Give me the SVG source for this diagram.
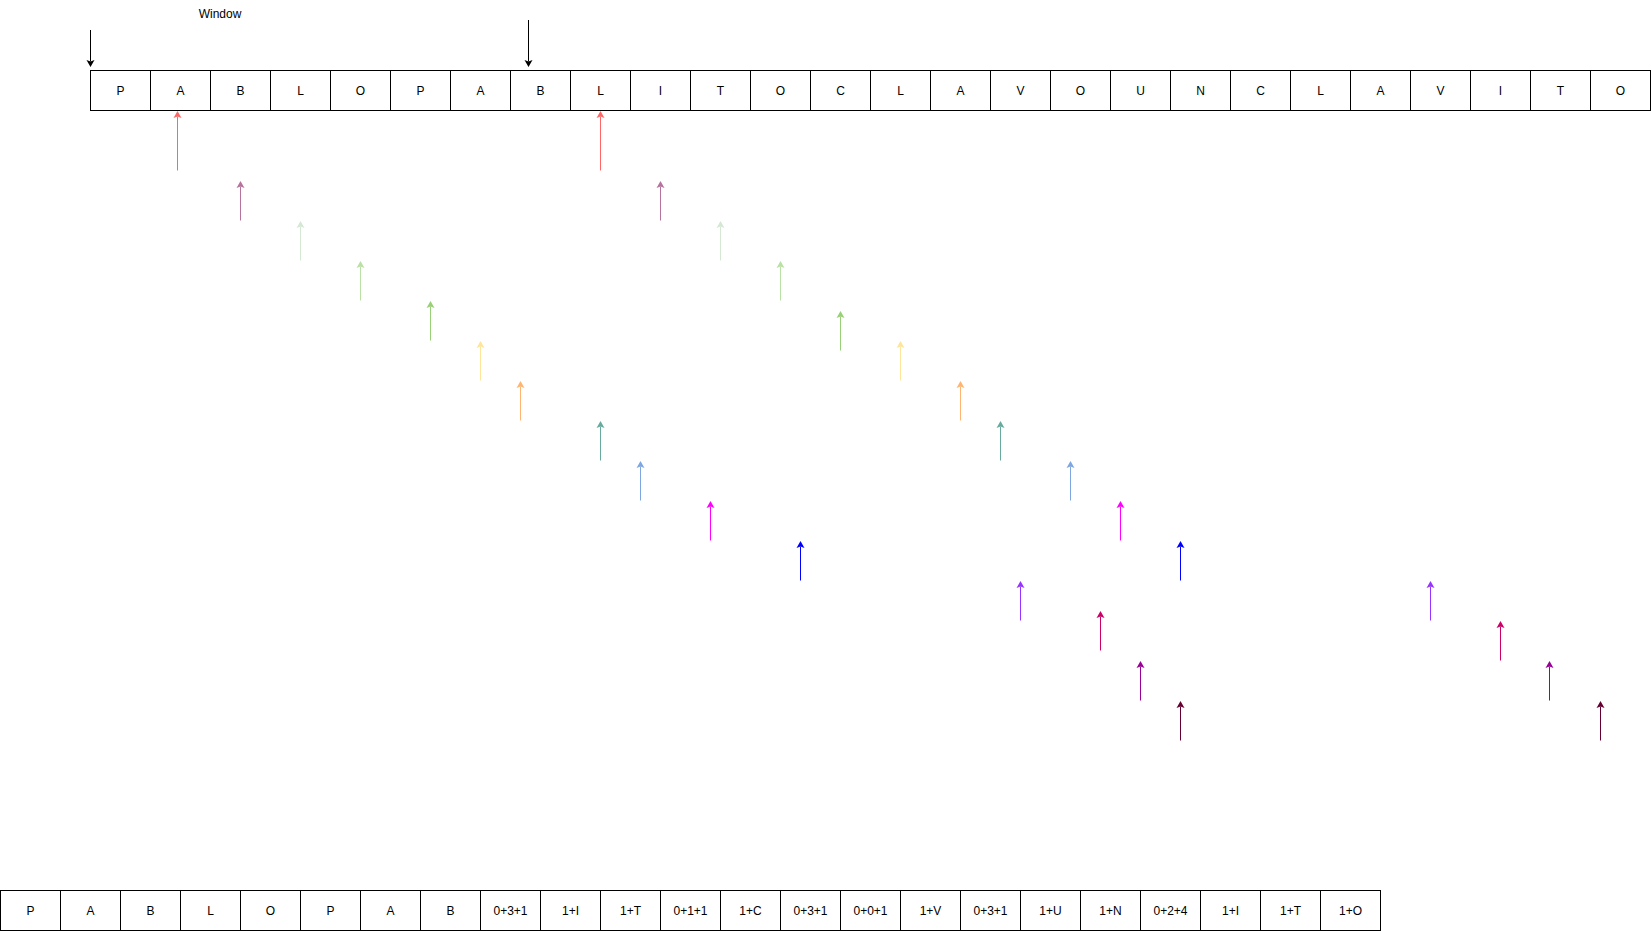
<svg xmlns="http://www.w3.org/2000/svg" width="1651" height="931" viewBox="0 0 1651 931">
<style>
.cell rect{fill:#fff;stroke:#000;stroke-width:1}
.cell text,.lbl{font-family:"Liberation Sans",Arial,sans-serif;font-size:12px;fill:#000;text-anchor:middle;dominant-baseline:central}
.c line{stroke-width:1;fill:none}
</style>
<defs>
<marker id="m000" viewBox="-2 -4 8 8" refX="0" refY="0" markerWidth="8" markerHeight="8" markerUnits="userSpaceOnUse" orient="auto" overflow="visible"><path d="M5.5,0 L-1.5,-4 L0,0 L-1.5,4 Z" fill="#000"/></marker>
<marker id="mF66" viewBox="-2 -4 8 8" refX="0" refY="0" markerWidth="8" markerHeight="8" markerUnits="userSpaceOnUse" orient="auto" overflow="visible"><path d="M5.5,0 L-1.5,-4 L0,0 L-1.5,4 Z" fill="#FF6666"/></marker>
<marker id="mB57" viewBox="-2 -4 8 8" refX="0" refY="0" markerWidth="8" markerHeight="8" markerUnits="userSpaceOnUse" orient="auto" overflow="visible"><path d="M5.5,0 L-1.5,-4 L0,0 L-1.5,4 Z" fill="#B5739D"/></marker>
<marker id="mD5E" viewBox="-2 -4 8 8" refX="0" refY="0" markerWidth="8" markerHeight="8" markerUnits="userSpaceOnUse" orient="auto" overflow="visible"><path d="M5.5,0 L-1.5,-4 L0,0 L-1.5,4 Z" fill="#D5E8D4"/></marker>
<marker id="mB9E" viewBox="-2 -4 8 8" refX="0" refY="0" markerWidth="8" markerHeight="8" markerUnits="userSpaceOnUse" orient="auto" overflow="visible"><path d="M5.5,0 L-1.5,-4 L0,0 L-1.5,4 Z" fill="#B9E0A5"/></marker>
<marker id="m97D" viewBox="-2 -4 8 8" refX="0" refY="0" markerWidth="8" markerHeight="8" markerUnits="userSpaceOnUse" orient="auto" overflow="visible"><path d="M5.5,0 L-1.5,-4 L0,0 L-1.5,4 Z" fill="#97D077"/></marker>
<marker id="mFE5" viewBox="-2 -4 8 8" refX="0" refY="0" markerWidth="8" markerHeight="8" markerUnits="userSpaceOnUse" orient="auto" overflow="visible"><path d="M5.5,0 L-1.5,-4 L0,0 L-1.5,4 Z" fill="#FFE599"/></marker>
<marker id="mFB5" viewBox="-2 -4 8 8" refX="0" refY="0" markerWidth="8" markerHeight="8" markerUnits="userSpaceOnUse" orient="auto" overflow="visible"><path d="M5.5,0 L-1.5,-4 L0,0 L-1.5,4 Z" fill="#FFB570"/></marker>
<marker id="m67A" viewBox="-2 -4 8 8" refX="0" refY="0" markerWidth="8" markerHeight="8" markerUnits="userSpaceOnUse" orient="auto" overflow="visible"><path d="M5.5,0 L-1.5,-4 L0,0 L-1.5,4 Z" fill="#67AB9F"/></marker>
<marker id="m7EA" viewBox="-2 -4 8 8" refX="0" refY="0" markerWidth="8" markerHeight="8" markerUnits="userSpaceOnUse" orient="auto" overflow="visible"><path d="M5.5,0 L-1.5,-4 L0,0 L-1.5,4 Z" fill="#7EA6E0"/></marker>
<marker id="mF0F" viewBox="-2 -4 8 8" refX="0" refY="0" markerWidth="8" markerHeight="8" markerUnits="userSpaceOnUse" orient="auto" overflow="visible"><path d="M5.5,0 L-1.5,-4 L0,0 L-1.5,4 Z" fill="#FF00FF"/></marker>
<marker id="m00F" viewBox="-2 -4 8 8" refX="0" refY="0" markerWidth="8" markerHeight="8" markerUnits="userSpaceOnUse" orient="auto" overflow="visible"><path d="M5.5,0 L-1.5,-4 L0,0 L-1.5,4 Z" fill="#0000FF"/></marker>
<marker id="m93F" viewBox="-2 -4 8 8" refX="0" refY="0" markerWidth="8" markerHeight="8" markerUnits="userSpaceOnUse" orient="auto" overflow="visible"><path d="M5.5,0 L-1.5,-4 L0,0 L-1.5,4 Z" fill="#9933FF"/></marker>
<marker id="mC06" viewBox="-2 -4 8 8" refX="0" refY="0" markerWidth="8" markerHeight="8" markerUnits="userSpaceOnUse" orient="auto" overflow="visible"><path d="M5.5,0 L-1.5,-4 L0,0 L-1.5,4 Z" fill="#CC0066"/></marker>
<marker id="m909" viewBox="-2 -4 8 8" refX="0" refY="0" markerWidth="8" markerHeight="8" markerUnits="userSpaceOnUse" orient="auto" overflow="visible"><path d="M5.5,0 L-1.5,-4 L0,0 L-1.5,4 Z" fill="#990099"/></marker>
<marker id="m603" viewBox="-2 -4 8 8" refX="0" refY="0" markerWidth="8" markerHeight="8" markerUnits="userSpaceOnUse" orient="auto" overflow="visible"><path d="M5.5,0 L-1.5,-4 L0,0 L-1.5,4 Z" fill="#660033"/></marker>
</defs>
<rect width="1651" height="931" fill="#fff"/>
<g id="window-label"><text class="lbl" x="220" y="14">Window</text></g>
<g id="top-row">
<g id="t0" class="cell"><rect x="90.5" y="70.5" width="60" height="40"/><text x="120.5" y="90.5">P</text></g>
<g id="t1" class="cell"><rect x="150.5" y="70.5" width="60" height="40"/><text x="180.5" y="90.5">A</text></g>
<g id="t2" class="cell"><rect x="210.5" y="70.5" width="60" height="40"/><text x="240.5" y="90.5">B</text></g>
<g id="t3" class="cell"><rect x="270.5" y="70.5" width="60" height="40"/><text x="300.5" y="90.5">L</text></g>
<g id="t4" class="cell"><rect x="330.5" y="70.5" width="60" height="40"/><text x="360.5" y="90.5">O</text></g>
<g id="t5" class="cell"><rect x="390.5" y="70.5" width="60" height="40"/><text x="420.5" y="90.5">P</text></g>
<g id="t6" class="cell"><rect x="450.5" y="70.5" width="60" height="40"/><text x="480.5" y="90.5">A</text></g>
<g id="t7" class="cell"><rect x="510.5" y="70.5" width="60" height="40"/><text x="540.5" y="90.5">B</text></g>
<g id="t8" class="cell"><rect x="570.5" y="70.5" width="60" height="40"/><text x="600.5" y="90.5">L</text></g>
<g id="t9" class="cell"><rect x="630.5" y="70.5" width="60" height="40"/><text x="660.5" y="90.5">I</text></g>
<g id="t10" class="cell"><rect x="690.5" y="70.5" width="60" height="40"/><text x="720.5" y="90.5">T</text></g>
<g id="t11" class="cell"><rect x="750.5" y="70.5" width="60" height="40"/><text x="780.5" y="90.5">O</text></g>
<g id="t12" class="cell"><rect x="810.5" y="70.5" width="60" height="40"/><text x="840.5" y="90.5">C</text></g>
<g id="t13" class="cell"><rect x="870.5" y="70.5" width="60" height="40"/><text x="900.5" y="90.5">L</text></g>
<g id="t14" class="cell"><rect x="930.5" y="70.5" width="60" height="40"/><text x="960.5" y="90.5">A</text></g>
<g id="t15" class="cell"><rect x="990.5" y="70.5" width="60" height="40"/><text x="1020.5" y="90.5">V</text></g>
<g id="t16" class="cell"><rect x="1050.5" y="70.5" width="60" height="40"/><text x="1080.5" y="90.5">O</text></g>
<g id="t17" class="cell"><rect x="1110.5" y="70.5" width="60" height="40"/><text x="1140.5" y="90.5">U</text></g>
<g id="t18" class="cell"><rect x="1170.5" y="70.5" width="60" height="40"/><text x="1200.5" y="90.5">N</text></g>
<g id="t19" class="cell"><rect x="1230.5" y="70.5" width="60" height="40"/><text x="1260.5" y="90.5">C</text></g>
<g id="t20" class="cell"><rect x="1290.5" y="70.5" width="60" height="40"/><text x="1320.5" y="90.5">L</text></g>
<g id="t21" class="cell"><rect x="1350.5" y="70.5" width="60" height="40"/><text x="1380.5" y="90.5">A</text></g>
<g id="t22" class="cell"><rect x="1410.5" y="70.5" width="60" height="40"/><text x="1440.5" y="90.5">V</text></g>
<g id="t23" class="cell"><rect x="1470.5" y="70.5" width="60" height="40"/><text x="1500.5" y="90.5">I</text></g>
<g id="t24" class="cell"><rect x="1530.5" y="70.5" width="60" height="40"/><text x="1560.5" y="90.5">T</text></g>
<g id="t25" class="cell"><rect x="1590.5" y="70.5" width="60" height="40"/><text x="1620.5" y="90.5">O</text></g>
</g>
<g id="bottom-row">
<g id="b0" class="cell"><rect x="0.5" y="890.5" width="60" height="40"/><text x="30.5" y="910.5">P</text></g>
<g id="b1" class="cell"><rect x="60.5" y="890.5" width="60" height="40"/><text x="90.5" y="910.5">A</text></g>
<g id="b2" class="cell"><rect x="120.5" y="890.5" width="60" height="40"/><text x="150.5" y="910.5">B</text></g>
<g id="b3" class="cell"><rect x="180.5" y="890.5" width="60" height="40"/><text x="210.5" y="910.5">L</text></g>
<g id="b4" class="cell"><rect x="240.5" y="890.5" width="60" height="40"/><text x="270.5" y="910.5">O</text></g>
<g id="b5" class="cell"><rect x="300.5" y="890.5" width="60" height="40"/><text x="330.5" y="910.5">P</text></g>
<g id="b6" class="cell"><rect x="360.5" y="890.5" width="60" height="40"/><text x="390.5" y="910.5">A</text></g>
<g id="b7" class="cell"><rect x="420.5" y="890.5" width="60" height="40"/><text x="450.5" y="910.5">B</text></g>
<g id="b8" class="cell"><rect x="480.5" y="890.5" width="60" height="40"/><text x="510.5" y="910.5">0+3+1</text></g>
<g id="b9" class="cell"><rect x="540.5" y="890.5" width="60" height="40"/><text x="570.5" y="910.5">1+I</text></g>
<g id="b10" class="cell"><rect x="600.5" y="890.5" width="60" height="40"/><text x="630.5" y="910.5">1+T</text></g>
<g id="b11" class="cell"><rect x="660.5" y="890.5" width="60" height="40"/><text x="690.5" y="910.5">0+1+1</text></g>
<g id="b12" class="cell"><rect x="720.5" y="890.5" width="60" height="40"/><text x="750.5" y="910.5">1+C</text></g>
<g id="b13" class="cell"><rect x="780.5" y="890.5" width="60" height="40"/><text x="810.5" y="910.5">0+3+1</text></g>
<g id="b14" class="cell"><rect x="840.5" y="890.5" width="60" height="40"/><text x="870.5" y="910.5">0+0+1</text></g>
<g id="b15" class="cell"><rect x="900.5" y="890.5" width="60" height="40"/><text x="930.5" y="910.5">1+V</text></g>
<g id="b16" class="cell"><rect x="960.5" y="890.5" width="60" height="40"/><text x="990.5" y="910.5">0+3+1</text></g>
<g id="b17" class="cell"><rect x="1020.5" y="890.5" width="60" height="40"/><text x="1050.5" y="910.5">1+U</text></g>
<g id="b18" class="cell"><rect x="1080.5" y="890.5" width="60" height="40"/><text x="1110.5" y="910.5">1+N</text></g>
<g id="b19" class="cell"><rect x="1140.5" y="890.5" width="60" height="40"/><text x="1170.5" y="910.5">0+2+4</text></g>
<g id="b20" class="cell"><rect x="1200.5" y="890.5" width="60" height="40"/><text x="1230.5" y="910.5">1+I</text></g>
<g id="b21" class="cell"><rect x="1260.5" y="890.5" width="60" height="40"/><text x="1290.5" y="910.5">1+T</text></g>
<g id="b22" class="cell"><rect x="1320.5" y="890.5" width="60" height="40"/><text x="1350.5" y="910.5">1+O</text></g>
</g>
<g id="connectors" class="c">
<line x1="90.5" y1="30" x2="90.5" y2="61.5" stroke="#000" marker-end="url(#m000)"/>
<line x1="528.5" y1="20" x2="528.5" y2="61.5" stroke="#000" marker-end="url(#m000)"/>
<line x1="177.5" y1="170.5" x2="177.5" y2="116.5" stroke="#FF6666" marker-end="url(#mF66)"/>
<line x1="600.5" y1="170.5" x2="600.5" y2="116.5" stroke="#FF6666" marker-end="url(#mF66)"/>
<line x1="240.5" y1="220.5" x2="240.5" y2="186.5" stroke="#B5739D" marker-end="url(#mB57)"/>
<line x1="660.5" y1="220.5" x2="660.5" y2="186.5" stroke="#B5739D" marker-end="url(#mB57)"/>
<line x1="300.5" y1="260.5" x2="300.5" y2="226.5" stroke="#D5E8D4" marker-end="url(#mD5E)"/>
<line x1="720.5" y1="260.5" x2="720.5" y2="226.5" stroke="#D5E8D4" marker-end="url(#mD5E)"/>
<line x1="360.5" y1="300.5" x2="360.5" y2="266.5" stroke="#B9E0A5" marker-end="url(#mB9E)"/>
<line x1="780.5" y1="300.5" x2="780.5" y2="266.5" stroke="#B9E0A5" marker-end="url(#mB9E)"/>
<line x1="430.5" y1="340.5" x2="430.5" y2="306.5" stroke="#97D077" marker-end="url(#m97D)"/>
<line x1="840.5" y1="350.5" x2="840.5" y2="316.5" stroke="#97D077" marker-end="url(#m97D)"/>
<line x1="480.5" y1="380.5" x2="480.5" y2="346.5" stroke="#FFE599" marker-end="url(#mFE5)"/>
<line x1="900.5" y1="380.5" x2="900.5" y2="346.5" stroke="#FFE599" marker-end="url(#mFE5)"/>
<line x1="520.5" y1="420.5" x2="520.5" y2="386.5" stroke="#FFB570" marker-end="url(#mFB5)"/>
<line x1="960.5" y1="420.5" x2="960.5" y2="386.5" stroke="#FFB570" marker-end="url(#mFB5)"/>
<line x1="600.5" y1="460.5" x2="600.5" y2="426.5" stroke="#67AB9F" marker-end="url(#m67A)"/>
<line x1="1000.5" y1="460.5" x2="1000.5" y2="426.5" stroke="#67AB9F" marker-end="url(#m67A)"/>
<line x1="640.5" y1="500.5" x2="640.5" y2="466.5" stroke="#7EA6E0" marker-end="url(#m7EA)"/>
<line x1="1070.5" y1="500.5" x2="1070.5" y2="466.5" stroke="#7EA6E0" marker-end="url(#m7EA)"/>
<line x1="710.5" y1="540.5" x2="710.5" y2="506.5" stroke="#FF00FF" marker-end="url(#mF0F)"/>
<line x1="1120.5" y1="540.5" x2="1120.5" y2="506.5" stroke="#FF00FF" marker-end="url(#mF0F)"/>
<line x1="800.5" y1="580.5" x2="800.5" y2="546.5" stroke="#0000FF" marker-end="url(#m00F)"/>
<line x1="1180.5" y1="580.5" x2="1180.5" y2="546.5" stroke="#0000FF" marker-end="url(#m00F)"/>
<line x1="1020.5" y1="620.5" x2="1020.5" y2="586.5" stroke="#9933FF" marker-end="url(#m93F)"/>
<line x1="1430.5" y1="620.5" x2="1430.5" y2="586.5" stroke="#9933FF" marker-end="url(#m93F)"/>
<line x1="1100.5" y1="650.5" x2="1100.5" y2="616.5" stroke="#CC0066" marker-end="url(#mC06)"/>
<line x1="1500.5" y1="660.5" x2="1500.5" y2="626.5" stroke="#CC0066" marker-end="url(#mC06)"/>
<line x1="1140.5" y1="700.5" x2="1140.5" y2="666.5" stroke="#990099" marker-end="url(#m909)"/>
<line x1="1549.5" y1="700.5" x2="1549.5" y2="666.5" stroke="#990099" marker-end="url(#m909)"/>
<line x1="1180.5" y1="740.5" x2="1180.5" y2="706.5" stroke="#660033" marker-end="url(#m603)"/>
<line x1="1600.5" y1="740.5" x2="1600.5" y2="706.5" stroke="#660033" marker-end="url(#m603)"/>
</g>
</svg>
